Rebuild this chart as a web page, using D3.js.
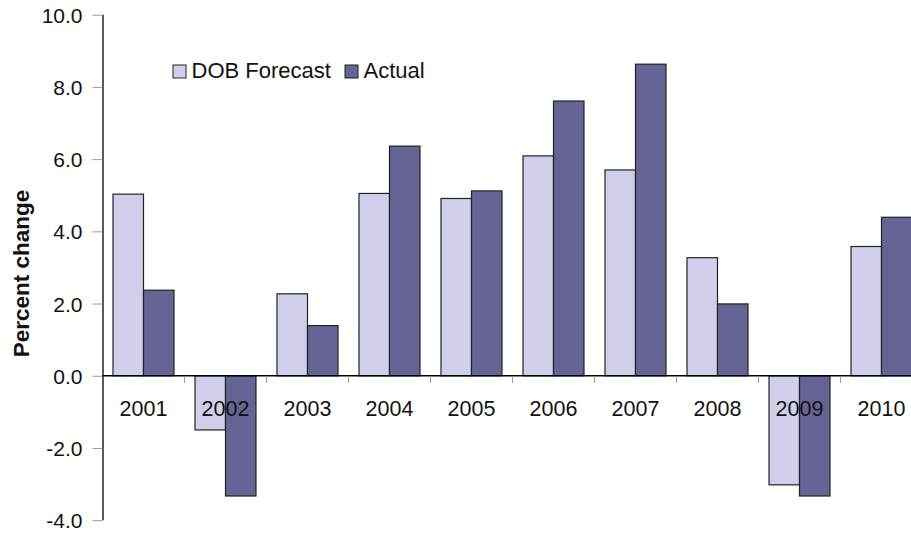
<!DOCTYPE html>
<html>
<head>
<meta charset="utf-8">
<script src="https://cdn.jsdelivr.net/npm/d3@7"></script>
<style>
  html, body { margin: 0; padding: 0; background: #fff; }
  svg { display: block; font-family: "Liberation Sans", Arial, sans-serif; }
</style>
</head>
<body>
<svg id="chart" width="911" height="535"></svg>
<script>
// Annual percent change: DOB forecast vs. actual
const years = ["2001","2002","2003","2004","2005","2006","2007","2008","2009","2010"];
const forecast = [5.03, -1.5, 2.27, 5.05, 4.91, 6.09, 5.7, 3.27, -3.02, 3.58];
const actual = [2.37, -3.33, 1.39, 6.36, 5.12, 7.61, 8.63, 1.99, -3.33, 4.39];
const seriesNames = ["DOB Forecast", "Actual"];
const seriesColors = ["#cfcfec", "#656494"];
const yTicks = [10, 8, 6, 4, 2, 0, -2, -4];

const svg = d3.select("#chart");
const plotLeft = 102.5, plotTop = 14.7, plotBottom = 520.2;

const y = d3.scaleLinear().domain([-4, 10]).range([plotBottom, plotTop]);
const x0 = d3.scaleBand().domain(years).range([plotLeft, plotLeft + 82 * years.length]).padding(0);
const x1 = d3.scaleBand().domain(seriesNames).range([10.5, x0.bandwidth() - 10.5]).padding(0);

const rows = years.map((yr, i) => ({ year: yr, values: [forecast[i], actual[i]] }));

// bars
const groups = svg.append("g").selectAll("g").data(rows).join("g")
  .attr("transform", d => `translate(${x0(d.year)},0)`);
groups.selectAll("rect")
  .data(d => d.values.map((v, k) => ({ v, k })))
  .join("rect")
  .attr("x", d => x1(seriesNames[d.k]))
  .attr("width", x1.bandwidth())
  .attr("y", d => y(Math.max(0, d.v)))
  .attr("height", d => Math.abs(y(d.v) - y(0)))
  .attr("fill", d => seriesColors[d.k])
  .attr("stroke", "#222")
  .attr("stroke-width", 1.2);

// y axis (plain hyphen for negatives)
const fmt = v => d3.format(".1f")(v).replace("\u2212", "-");
const yAxis = svg.append("g").attr("transform", `translate(${plotLeft},0)`)
  .call(d3.axisLeft(y).tickValues(yTicks).tickSize(10).tickPadding(10).tickFormat(fmt));
yAxis.select(".domain").attr("stroke", "#000").attr("stroke-width", 1.3).attr("d", `M0.5,${plotTop}V${plotBottom}`);
yAxis.selectAll(".tick line").attr("stroke", "#999");
yAxis.selectAll(".tick text").attr("font-size", 21).attr("fill", "#111")
  .attr("font-family", "Liberation Sans, Arial, sans-serif").attr("dy", "0.36em");

// x axis along zero line
const xAxis = svg.append("g").attr("transform", `translate(0,${y(0)})`);
xAxis.append("line").attr("x1", plotLeft).attr("x2", 911).attr("y1", 0).attr("y2", 0)
  .attr("stroke", "#000").attr("stroke-width", 1.3);
xAxis.selectAll("line.cat").data(years.slice(1)).join("line")
  .attr("class", "cat")
  .attr("x1", d => x0(d)).attr("x2", d => x0(d))
  .attr("y1", 0).attr("y2", 7)
  .attr("stroke", "#999");
xAxis.selectAll("text").data(years).join("text")
  .attr("x", d => x0(d) + x0.bandwidth() / 2)
  .attr("y", 40.5)
  .attr("text-anchor", "middle")
  .attr("font-size", 21.5)
  .attr("fill", "#111")
  .text(d => d);

// y title
svg.append("text")
  .attr("transform", `translate(29,${(plotTop + plotBottom) / 2 + 6}) rotate(-90)`)
  .attr("text-anchor", "middle")
  .attr("font-size", 22.5)
  .attr("font-weight", "bold")
  .attr("fill", "#111")
  .text("Percent change");

// legend
const legend = svg.append("g").attr("transform", "translate(173,65)");
const legX = [0, 172];
seriesNames.forEach((name, k) => {
  const g = legend.append("g").attr("transform", `translate(${legX[k]},0)`);
  g.append("rect").attr("width", 13).attr("height", 13)
    .attr("fill", seriesColors[k]).attr("stroke", "#222").attr("stroke-width", 1);
  g.append("text").attr("x", 18.5).attr("y", 13).attr("font-size", 22).attr("fill", "#111").text(name);
});
</script>
</body>
</html>
